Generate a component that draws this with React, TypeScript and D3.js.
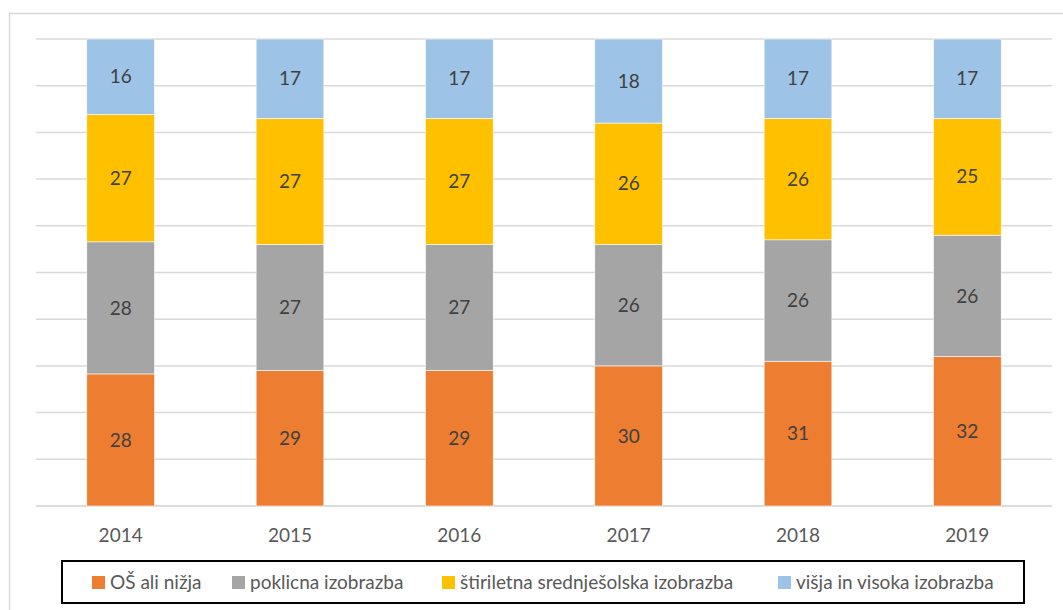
import React from "react";
import * as d3 from "d3";

const years = ["2014", "2015", "2016", "2017", "2018", "2019"];
const seriesNames = [
  "OŠ ali nižja",
  "poklicna izobrazba",
  "štiriletna srednješolska izobrazba",
  "višja in visoka izobrazba",
];
const osAliNizja = [28, 29, 29, 30, 31, 32];
const poklicna = [28, 27, 27, 26, 26, 26];
const stiriletna = [27, 27, 27, 26, 26, 25];
const visja = [16, 17, 17, 18, 17, 17];
const colors = ["#ED7D31", "#A5A5A5", "#FFC000", "#9DC3E6"];
const yTicks = [0, 0.1, 0.2, 0.3, 0.4, 0.5, 0.6, 0.7, 0.8, 0.9, 1];

const W = 1063;
const H = 610;
const plot = { left: 36, right: 1052, top: 39, bottom: 506 };
const legendBox = { x: 62, y: 561, w: 962, h: 42 };
const legendX = [92, 232, 442, 778];
const FONT = "Lato, 'Open Sans', sans-serif";

export default function App() {
  const values = [osAliNizja, poklicna, stiriletna, visja];
  const rows = years.map((y, i) => {
    const r: any = { year: y };
    values.forEach((v, k) => (r["s" + k] = v[i]));
    return r;
  });
  const keys = values.map((_, k) => "s" + k);
  const stack = d3.stack<any>().keys(keys).offset(d3.stackOffsetExpand);
  const series = stack(rows);

  const x = d3.scaleBand().domain(years).range([plot.left, plot.right]).paddingInner(0.6).paddingOuter(0.3);
  const y = d3.scaleLinear().domain([0, 1]).range([plot.bottom, plot.top]);

  return (
    <svg
      width={W}
      height={H}
      style={{ position: "absolute", left: 0, top: 0, background: "#fff" }}
      fontFamily={FONT}
    >
      <rect x={9.5} y={13.5} width={1060} height={620} fill="none" stroke="#D9D9D9" strokeWidth={1.5} />
      {yTicks.map((t) => (
        <line
          key={t}
          x1={plot.left}
          x2={plot.right}
          y1={y(t)}
          y2={y(t)}
          stroke={t === 0 ? "#D0D0D0" : "#D9D9D9"}
          strokeWidth={1.5}
        />
      ))}
      {series.map((s, k) => (
        <g key={k}>
          {s.map((d, i) => {
            const x0 = x(years[i])!;
            const y0 = y(d[1]);
            const h = y(d[0]) - y(d[1]);
            return (
              <g key={i}>
                <rect x={x0} y={y0} width={x.bandwidth()} height={h} fill={colors[k]} stroke="#fff" strokeWidth={0.6} />
                <text
                  x={x0 + x.bandwidth() / 2}
                  y={y0 + h / 2}
                  dy="0.35em"
                  textAnchor="middle"
                  fontSize={19}
                  fill="#404040"
                >
                  {values[k][i]}
                </text>
              </g>
            );
          })}
        </g>
      ))}
      {years.map((yr) => (
        <text
          key={yr}
          x={x(yr)! + x.bandwidth() / 2}
          y={535}
          dy="0.35em"
          textAnchor="middle"
          fontSize={19}
          fill="#595959"
        >
          {yr}
        </text>
      ))}
      <rect
        x={legendBox.x}
        y={legendBox.y}
        width={legendBox.w}
        height={legendBox.h}
        fill="#fff"
        stroke="#000"
        strokeWidth={2}
      />
      {seriesNames.map((n, k) => (
        <g key={n}>
          <rect x={legendX[k]} y={576} width={13} height={13} fill={colors[k]} />
          <text x={legendX[k] + 18} y={582.5} dy="0.35em" fontSize={19} fill="#595959">
            {n}
          </text>
        </g>
      ))}
    </svg>
  );
}
